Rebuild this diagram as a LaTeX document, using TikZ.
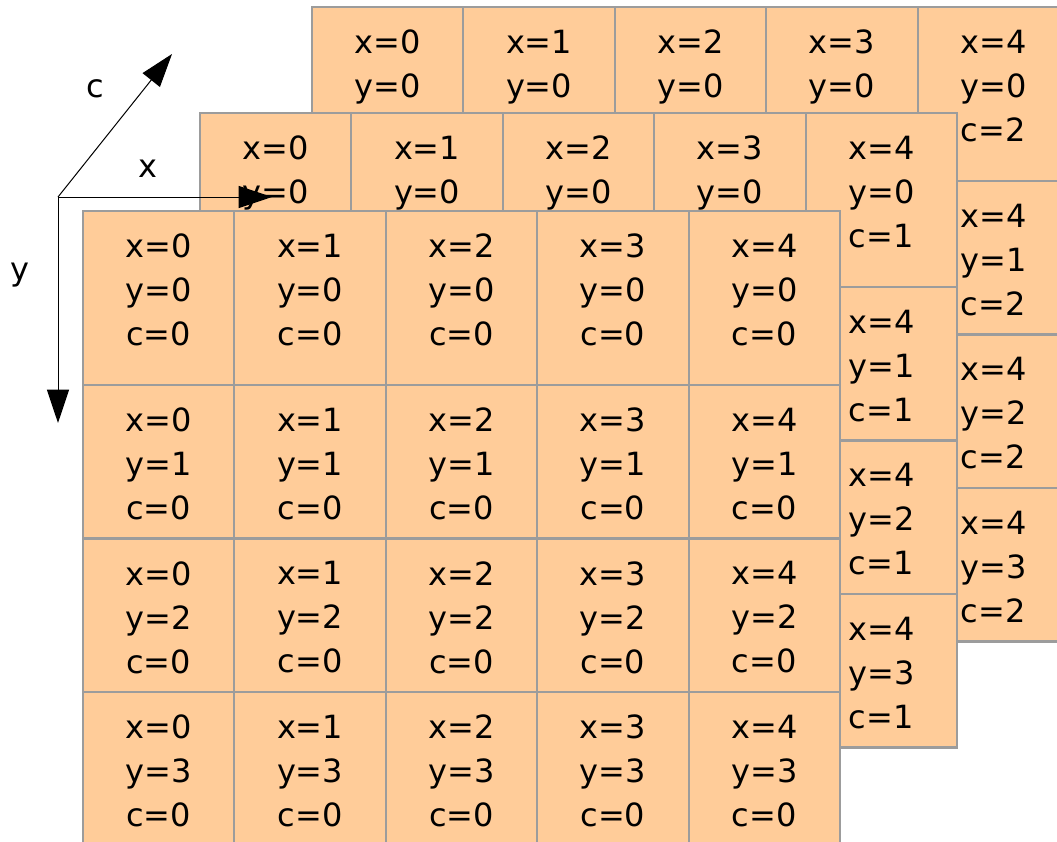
\documentclass[tikz,border=0pt]{standalone}
\usepackage{fontspec}
\setmainfont{DejaVu Sans}
\usetikzlibrary{arrows.meta}
\definecolor{peach}{HTML}{FFCC99}
\definecolor{edgegray}{HTML}{9C9C9C}
\begin{document}
\begin{tikzpicture}[x=0.75pt,y=-0.75pt,
  cellbox/.style={draw=edgegray,fill=peach,line width=1.6pt},
  lbl/.style={align=center,anchor=north,inner sep=0pt,font=\fontsize{24}{33}\selectfont},
  axlbl/.style={anchor=base,inner sep=0pt,font=\fontsize{24}{33}\selectfont},
  axis/.style={line width=0.75pt,-{Triangle[length=25pt,width=16.5pt]}}]
\path[use as bounding box] (0,0) rectangle (1057,842);
\clip (0,0) rectangle (1057,842);
% layers: back (b), middle (m), front (f)
\foreach \L/\X/\Y/\C in {b/312/7/2, m/200/113/1, f/83/211/0} {
  \foreach \j/\a/\b in {0/0/174,1/174/327.5,2/327.5/481,3/481/634.5} {
    \foreach \i in {0,...,4} {
      \draw[cellbox] ({\X+\i*151.4},{\Y+\a}) rectangle ({\X+(\i+1)*151.4},{\Y+\b});
    }
  }
  % text
  \foreach \j/\a in {0/0,1/174,2/327.5,3/481} {
    \foreach \i in {0,...,4} {
      \ifnum\C=0
        \node[lbl] (\L-\i-\j) at ({\X+(\i+0.5)*151.4},{\Y+\a+22.7}) {x=\i\\y=\j\\c=\C};
      \else
        \ifnum\i=4
          \node[lbl] (\L-\i-\j) at ({\X+(\i+0.5)*151.4},{\Y+\a+22.7}) {x=\i\\y=\j\\c=\C};
        \else
          \ifnum\j=0
            \node[lbl] (\L-\i-\j) at ({\X+(\i+0.5)*151.4},{\Y+\a+22.7}) {x=\i\\y=\j};
          \fi
        \fi
      \fi
    }
  }
}
% axes
\coordinate (O) at (58,197);
\coordinate (xtip) at (272,197);
\coordinate (ytip) at (58,423);
\coordinate (ctip) at (172,54);
\draw[axis] (O) -- (xtip);
\draw[axis] (O) -- (ytip);
\draw[axis] (O) -- (ctip);
\node[axlbl] (clabel) at (95,98) {c};
\node[axlbl] (xlabel) at (148,177) {x};
\node[axlbl] (ylabel) at (20,280) {y};
\end{tikzpicture}
\end{document}
